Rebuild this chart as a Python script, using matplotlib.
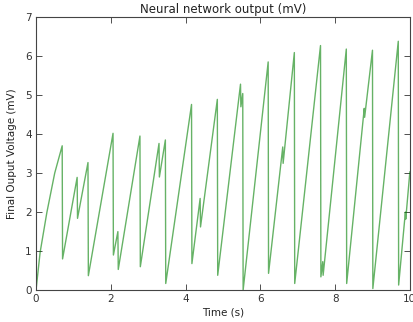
import matplotlib
matplotlib.use("Agg")
import matplotlib.pyplot as plt

# vertices (time in s, output in mV)
time_s = [0.00, 0.11, 0.29, 0.50, 0.70, 0.71, 1.10, 1.11, 1.39, 1.40,
          2.06, 2.07, 2.19, 2.20, 2.78, 2.79, 3.29, 3.30, 3.46, 3.47,
          4.16, 4.17, 4.39, 4.40, 4.85, 4.86, 5.47, 5.48, 5.53, 5.54,
          6.21, 6.22, 6.60, 6.61, 6.91, 6.92, 7.61, 7.62, 7.67, 7.68,
          8.30, 8.31, 8.78, 8.79, 9.00, 9.01, 9.69, 9.70, 9.88, 9.89,
          10.00]
voltage_mv = [0.00, 0.97, 1.99, 3.00, 3.70, 0.80, 2.89, 1.84, 3.27, 0.37,
              4.02, 0.90, 1.50, 0.53, 3.95, 0.60, 3.76, 2.90, 3.85, 0.17,
              4.76, 0.68, 2.35, 1.62, 4.89, 0.38, 5.28, 4.70, 5.04, 0.00,
              5.85, 0.43, 3.67, 3.25, 6.09, 0.17, 6.27, 0.34, 0.73, 0.38,
              6.18, 0.17, 4.66, 4.43, 6.15, 0.04, 6.38, 0.13, 2.00, 1.82,
              3.03]

x_ticks = [0, 2, 4, 6, 8, 10]
y_ticks = [0, 1, 2, 3, 4, 5, 6, 7]

fig = plt.figure(figsize=(4.14, 3.22), dpi=100)
ax = fig.add_axes([0.087, 0.099, 0.903, 0.848])

ax.plot(time_s, voltage_mv, color="green", alpha=0.6, lw=1)

ax.set_xlim(0, 10)
ax.set_ylim(0, 7)
ax.set_xticks(x_ticks)
ax.set_yticks(y_ticks)
ax.tick_params(direction="in", top=True, right=True, labelsize=7.5,
               length=4, width=0.6, colors="#333333", pad=3)
for s in ax.spines.values():
    s.set_linewidth(0.8)
    s.set_color("#444444")

ax.set_title("Neural network output (mV)", fontsize=8.5, pad=3, color="#222222")
ax.set_xlabel("Time (s)", fontsize=7.5, labelpad=2, color="#222222")
ax.set_ylabel("Final Ouput Voltage (mV)", fontsize=7.5, labelpad=6, color="#222222")

fig.savefig("out.png", dpi=100)
